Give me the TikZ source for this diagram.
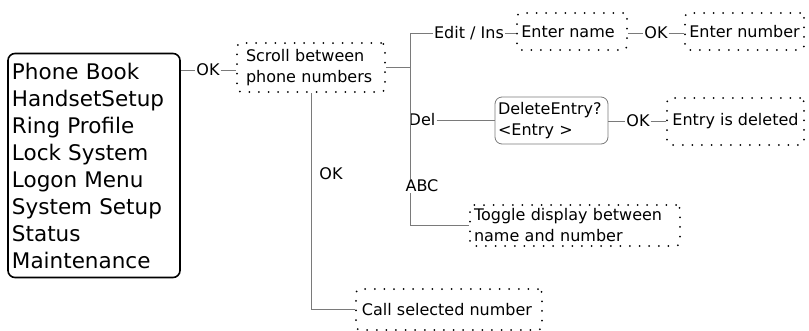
\documentclass[tikz,border=0pt]{standalone}
\usepackage{fontspec}
\setmainfont{DejaVu Sans}
\usetikzlibrary{positioning,calc}
\definecolor{wiregray}{HTML}{7A7A7A}
\tikzset{
  menubox/.style = {draw, line width=1.6pt, rounded corners=7pt, align=left,
                    font=\fontsize{21.5}{27}\selectfont, inner xsep=4pt,
                    text width=164pt, minimum height=224pt},
  dotbox/.style  = {draw, line width=2pt, line cap=round,
                    dash pattern=on 0pt off 9.6pt, rounded corners=4pt,
                    align=left, inner xsep=4pt},
  askbox/.style  = {draw=wiregray, line width=0.8pt, rounded corners=7pt,
                    align=left, inner xsep=3pt},
  lbl/.style     = {inner sep=1pt},
  wire/.style    = {draw=wiregray, line width=0.8pt},
}

\begin{document}
\begin{tikzpicture}[x=1pt,y=-1pt,font=\fontsize{16}{21}\selectfont]
\useasboundingbox (0,0) rectangle (809,330);
% main menu
\node[menubox] (menu) at (94,165.5)
  {Phone Book\\HandsetSetup\\Ring Profile\\Lock System\\Logon Menu\\System Setup\\Status\\Maintenance};
\node[lbl] (ok1) at (208,70) {OK};
\node[dotbox, text width=130pt, inner xsep=9pt, minimum height=49pt] (scroll) at (311,67.5)
  {Scroll between\\phone numbers};
% phone book branches
\node[lbl] (edit) at (469,33) {Edit / Ins};
\node[dotbox, minimum width=110pt, minimum height=37pt] (name) at (572,31.5) {Enter name\hspace{8pt}};
\node[lbl] (ok2) at (656,33) {OK};
\node[dotbox, minimum width=119pt, minimum height=37pt] (number) at (744.5,31.5) {Enter number};
\node[lbl] (del) at (422,120) {Del};
\node[askbox, text width=107pt, minimum height=47pt] (ask) at (551.5,120.5)
  {DeleteEntry?\\{<}Entry {>}};
\node[lbl] (ok3) at (638,121) {OK};
\node[dotbox, minimum width=137pt, minimum height=47pt] (deleted) at (735.5,121.5) {Entry is deleted};
\node[lbl] (abc) at (422,186) {ABC};
\node[dotbox, text width=202pt, inner xsep=4pt, minimum height=41pt] (toggle) at (575,225.5)
  {Toggle display between\\name and number};
\node[lbl] (ok4) at (331,174) {OK};
\node[dotbox, minimum width=186pt, minimum height=41pt] (call) at (449,309.5) {Call selected number\hspace{4pt}};
% connectors
\coordinate (tt) at (410,33);
\coordinate (tb) at (410,225);
\draw[wire] (menu.east |- ok1) -- (ok1.west);
\draw[wire] (ok1.east) -- (scroll.west |- ok1);
\draw[wire] (scroll.east) -- (scroll.east -| tt);
\draw[wire] (edit.west) -- (tt) -- (tt |- abc.north);
\draw[wire] (abc.south -| tt) -- (tb) -- (toggle.west |- tb);
\draw[wire] (edit.east) -- (name.west |- edit);
\draw[wire] (name.east |- ok2) -- (ok2.west);
\draw[wire] (ok2.east) -- (number.west |- ok2);
\draw[wire] (del.east) -- (ask.west |- del);
\draw[wire] (ask.east |- ok3) -- (ok3.west);
\draw[wire] (ok3.east) -- (deleted.west |- ok3);
\draw[wire] (scroll.south) -- (scroll.south |- call) -- (call.west);
\end{tikzpicture}
\end{document}
